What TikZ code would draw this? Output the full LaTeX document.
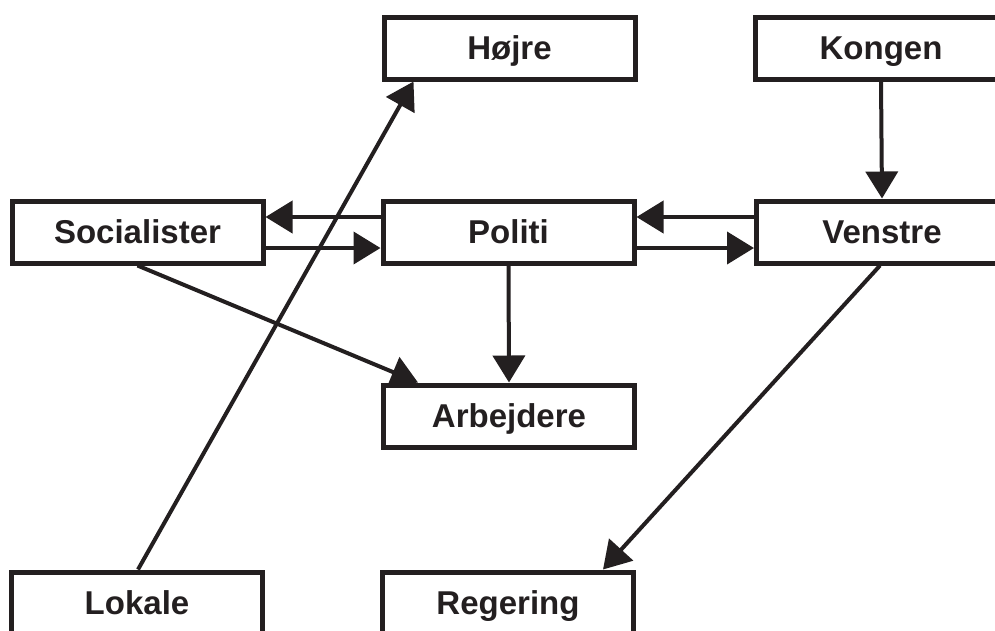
\documentclass[tikz,border=0pt]{standalone}
\usepackage{fontspec}
\setmainfont{Liberation Sans}
\usetikzlibrary{arrows.meta}
\definecolor{ink}{HTML}{231F20}
\begin{document}
\begin{tikzpicture}[x=1pt,y=-1pt,
  box/.style={draw=ink,line width=5pt,fill=white,minimum width=251pt,minimum height=62pt,inner sep=0pt,
    text height=23.5pt,text depth=0pt,
    font=\fontsize{33}{33}\selectfont\bfseries,text=ink},
  arr/.style={draw=ink,line width=4pt,-{Triangle[length=27pt,width=32pt]},shorten >=0pt}]
\useasboundingbox (0,0) rectangle (995,630);
\node[box] (hoejre) at (509.5,48) {Højre};
\node[box] (kongen) at (881,48) {Kongen};
\node[box] (soc) at (137.5,232) {Socialister};
\node[box] (politi) at (508.5,232) {Politi};
\node[box] (venstre) at (882,232) {Venstre};
\node[box] (arb) at (509,416) {Arbejdere};
\node[box] (lokale) at (137,603) {Lokale};
\node[box] (reg) at (508,603) {Regering};
\draw[arr] ([yshift=15pt]politi.west) -- ([yshift=15pt]soc.east);
\draw[arr] ([yshift=-16pt]soc.east) -- ([yshift=-16pt]politi.west);
\draw[arr] ([yshift=15pt]venstre.west) -- ([yshift=15pt]politi.east);
\draw[arr] ([yshift=-16pt]politi.east) -- ([yshift=-16pt]venstre.west);
\draw[arr] (kongen.south) -- (venstre.north);
\draw[arr] (politi.south) -- (arb.north);
\draw[arr] ([xshift=1pt]lokale.north) -- ([xshift=-96pt]hoejre.south);
\draw[arr] (soc.south) -- ([xshift=-91pt]arb.north);
\draw[arr] ([xshift=-2pt]venstre.south) -- ([xshift=95pt]reg.north);
\end{tikzpicture}
\end{document}
